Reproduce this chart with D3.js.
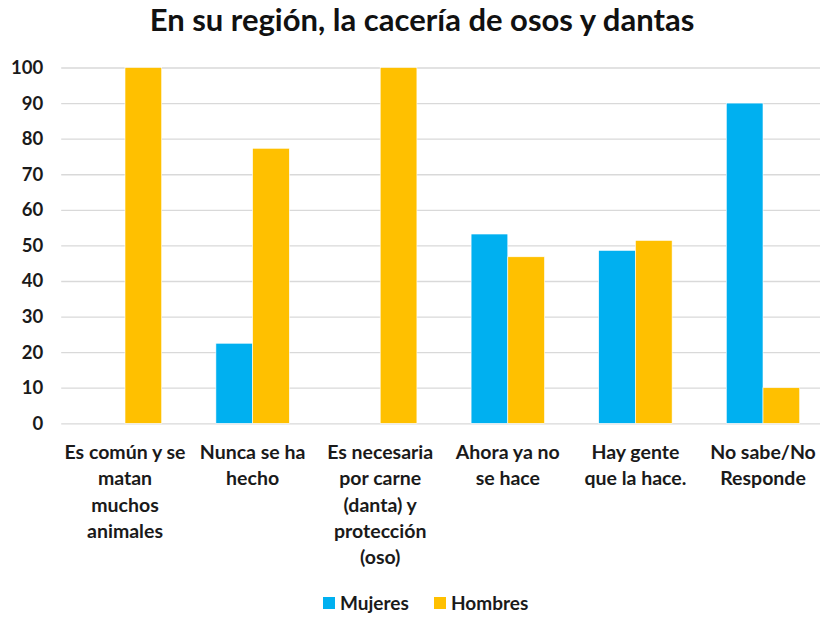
<!DOCTYPE html>
<html><head><meta charset="utf-8">
<script src="https://cdn.jsdelivr.net/npm/d3@7"></script>
<style>body{margin:0;background:#fff;} svg{display:block;}</style>
</head><body>
<script>
const categories = [
  ["Es común y se","matan","muchos","animales"],
  ["Nunca se ha","hecho"],
  ["Es necesaria","por carne","(danta) y","protección","(oso)"],
  ["Ahora ya no","se hace"],
  ["Hay gente","que la hace."],
  ["No sabe/No","Responde"]
];
const seriesNames = ["Mujeres","Hombres"];
const mujeres = [0, 22.5, 0, 53.2, 48.6, 90];
const hombres = [100, 77.3, 100, 46.8, 51.4, 10];
const yTicks = [0,10,20,30,40,50,60,70,80,90,100];
const colors = ["#00b0f0","#ffc000"];
const title = "En su región, la cacería de osos y dantas";

(function(){
const W = 820, H = 618;
const font = "Lato, 'Open Sans', sans-serif";
const svg = d3.select("body").append("svg").attr("width", W).attr("height", H);

const mLeft = 61.2, mRight = 826.8, mTop = 67.5, mBottom = 423.3;
const idx = d3.range(categories.length);
const x0 = d3.scaleBand().domain(idx).range([mLeft, mRight]).padding(0);
const x1 = d3.scaleBand().domain(seriesNames).range([0, x0.bandwidth()]).paddingInner(0).paddingOuter(0.738);
const y = d3.scaleLinear().domain([0, 100]).range([mBottom, mTop]);

const yAxis = d3.axisLeft(y).tickValues(yTicks).tickSize(-(W - mLeft)).tickPadding(18);
const gy = svg.append("g").attr("transform", `translate(${mLeft},0)`).call(yAxis);
gy.select(".domain").remove();
gy.selectAll(".tick line").attr("stroke", "#d9d9d9").attr("stroke-width", 1.3);
gy.selectAll(".tick text").attr("font-family", font).attr("font-weight", "bold")
  .attr("font-size", 18.5).attr("fill", "#1a1a1a");

const data = idx.map(i => ({i, vals: [mujeres[i], hombres[i]]}));
const g = svg.append("g");
data.forEach(d => {
  d.vals.forEach((v, k) => {
    if (v <= 0) return;
    g.append("rect")
      .attr("x", x0(d.i) + x1(seriesNames[k]))
      .attr("y", y(v))
      .attr("width", x1.bandwidth())
      .attr("height", y(0) - y(v))
      .attr("fill", colors[k])
      .attr("stroke", "#ffffff").attr("stroke-width", 0.6);
  });
});

const xl = svg.append("g");
categories.forEach((lines, i) => {
  const t = xl.append("text")
    .attr("text-anchor", "middle")
    .attr("font-family", font).attr("font-weight", "bold").attr("font-size", 19.5)
    .attr("fill", "#1a1a1a");
  lines.forEach((ln, j) => {
    t.append("tspan").attr("x", x0(i) + x0.bandwidth() / 2).attr("y", 459 + j * 26.3).text(ln);
  });
});

svg.append("text").attr("x", 422).attr("y", 31).attr("text-anchor", "middle")
  .attr("font-family", font).attr("font-weight", "bold").attr("font-size", 31)
  .attr("fill", "#111").text(title);

const legX = [323, 434];
seriesNames.forEach((s, k) => {
  svg.append("rect").attr("x", legX[k]).attr("y", 597).attr("width", 12).attr("height", 12).attr("fill", colors[k]);
  svg.append("text").attr("x", legX[k] + 17).attr("y", 610)
    .attr("font-family", font).attr("font-weight", "bold").attr("font-size", 19)
    .attr("fill", "#1a1a1a").text(s);
});
})();
</script>
</body></html>
